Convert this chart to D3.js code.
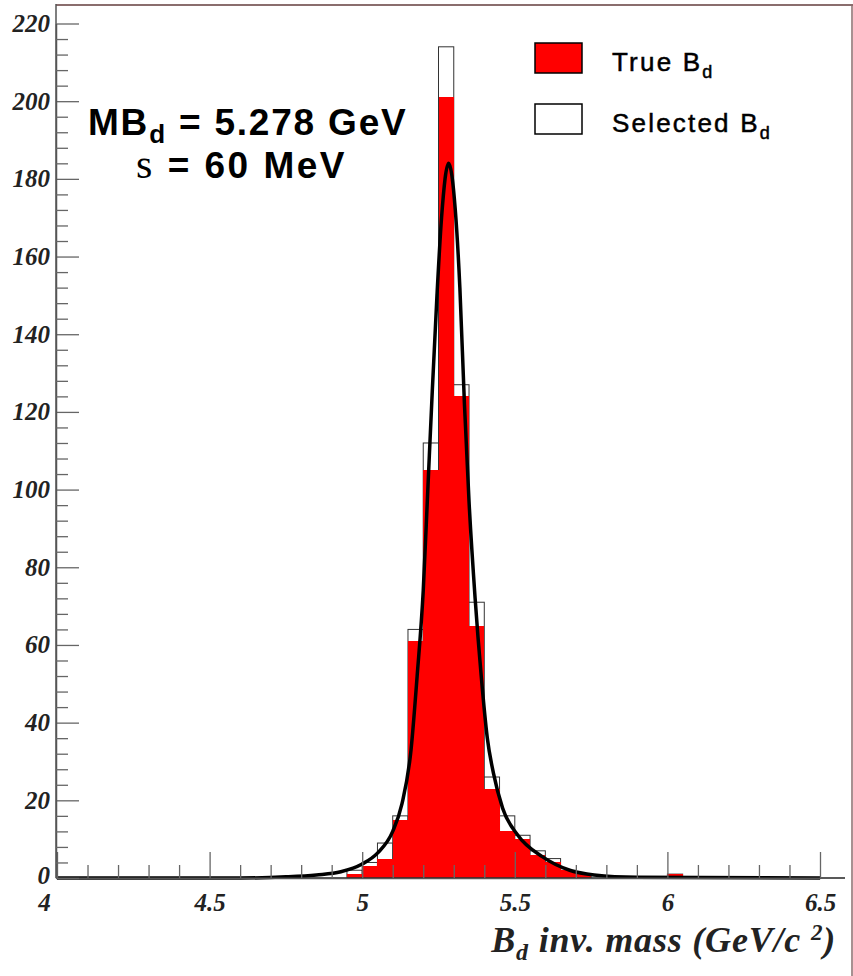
<!DOCTYPE html>
<html>
<head>
<meta charset="utf-8">
<script src="https://cdn.jsdelivr.net/npm/d3@7"></script>
<style>
  body { margin: 0; background: #fff; }
</style>
</head>
<body>
<div id="chart"></div>
<script>
// histogram bins (low edge, GeV), width 0.05 -- only non-empty bins listed
var binLow = [4.95, 5.00, 5.05, 5.10, 5.15, 5.20, 5.25, 5.30, 5.35, 5.40, 5.45, 5.50, 5.55, 5.60, 5.65, 5.70, 6.00];
var trueBd = [1, 3, 5, 15, 61, 105, 201, 124, 65, 23, 12, 10, 6, 4, 2, 1, 1];
var selectedBd = [2, 4, 9, 16, 64, 112, 214, 127, 71, 26, 16, 11, 7, 5, 2, 1, 1];
var binWidth = 0.05;

// fitted curve
var fitX = [4.0, 4.6, 4.75, 4.85, 4.93, 5.0, 5.05, 5.1, 5.13, 5.16, 5.18, 5.2, 5.215, 5.23, 5.245, 5.26, 5.283,
            5.305, 5.32, 5.335, 5.35, 5.37, 5.39, 5.41, 5.43, 5.46, 5.51, 5.59, 5.68, 5.76, 5.9, 6.5];
var fitY = [0, 0, 0.3, 0.8, 1.6, 3.6, 6.4, 12, 19, 33, 52, 74, 100, 126, 150, 170, 184,
            172, 152, 122, 97, 72, 52, 36, 27, 18, 11, 5.5, 2, 0.8, 0.2, 0];

// axis ticks
var xMajor = [4, 4.5, 5, 5.5, 6, 6.5];
var xMinor = [4.1, 4.2, 4.3, 4.4, 4.6, 4.7, 4.8, 4.9, 5.1, 5.2, 5.3, 5.4, 5.6, 5.7, 5.8, 5.9, 6.1, 6.2, 6.3, 6.4];
var yMajor = [0, 20, 40, 60, 80, 100, 120, 140, 160, 180, 200, 220];
var yMinor = d3.range(4, 221, 4).filter(d => d % 20 !== 0);

var svgWidth = 853;
var svgHeight = 976;

var svg = d3.select("#chart")
  .append("svg")
  .attr("width", svgWidth)
  .attr("height", svgHeight)
  .style("display", "block");

svg.append("rect").attr("width", svgWidth).attr("height", svgHeight).attr("fill", "#fff");

var x = d3.scaleLinear().domain([4, 6.5]).range([57, 820]);
var y = d3.scaleLinear().domain([0, 220]).range([878, 23.5]);

var bins = binLow.map((lo, i) => ({ lo: lo, hi: lo + binWidth, t: trueBd[i], s: selectedBd[i] }));

// selected histogram: white boxes with thin outline
svg.append("g").selectAll("rect")
  .data(bins)
  .join("rect")
  .attr("x", d => x(d.lo))
  .attr("width", d => x(d.hi) - x(d.lo))
  .attr("y", d => y(d.s))
  .attr("height", d => y(0) - y(d.s))
  .attr("fill", "#fff")
  .attr("stroke", "#333")
  .attr("stroke-width", 1);

// true histogram: red fill on top
svg.append("g").selectAll("rect")
  .data(bins)
  .join("rect")
  .attr("x", d => x(d.lo))
  .attr("width", d => x(d.hi) - x(d.lo))
  .attr("y", d => y(d.t))
  .attr("height", d => y(0) - y(d.t))
  .attr("fill", "#ff0000")
  .attr("shape-rendering", "crispEdges");

// fit curve
var fitLine = d3.line()
  .x((d, i) => x(fitX[i]))
  .y(d => y(d))
  .curve(d3.curveMonotoneX);

svg.append("path")
  .attr("d", fitLine(fitY))
  .attr("fill", "none")
  .attr("stroke", "#000")
  .attr("stroke-width", 3.5)
  .attr("stroke-linejoin", "round");

// frame top / right
svg.append("line").attr("x1", 56).attr("x2", 853).attr("y1", 5).attr("y2", 5)
  .attr("stroke", "#8a6d6d").attr("stroke-width", 2);
svg.append("line").attr("x1", 852).attr("x2", 852).attr("y1", 5).attr("y2", 976)
  .attr("stroke", "#8a6d6d").attr("stroke-width", 1.5);

// axes (ROOT style, ticks pointing inwards)
var labelFont = "'Liberation Serif', 'Times New Roman', serif";

var bottomAxis = d3.axisBottom(x).tickValues(xMajor).tickFormat(d3.format("")).tickSize(-26).tickSizeOuter(0).tickPadding(15);
var bottomMinor = d3.axisBottom(x).tickValues(xMinor).tickFormat("").tickSize(-13).tickSizeOuter(0);
var leftAxis = d3.axisLeft(y).tickValues(yMajor).tickFormat(d3.format("")).tickSize(-23).tickSizeOuter(0).tickPadding(6);
var leftMinor = d3.axisLeft(y).tickValues(yMinor).tickFormat("").tickSize(-12).tickSizeOuter(0);

var gx = svg.append("g").attr("transform", `translate(0, ${y(0)})`).call(bottomAxis);
svg.append("g").attr("transform", `translate(0, ${y(0)})`).call(bottomMinor);
var gy = svg.append("g").attr("transform", `translate(${x(4) - 1}, 0)`).call(leftAxis);
svg.append("g").attr("transform", `translate(${x(4) - 1}, 0)`).call(leftMinor);

svg.selectAll(".domain").attr("stroke", "#555").attr("stroke-width", 1.5);
svg.selectAll(".tick line").attr("stroke", "#666").attr("stroke-width", 1.3);

gx.select(".domain").attr("d", `M${x(4) - 1},0H845`).attr("stroke", "#222");
gx.selectAll("text")
  .attr("font-family", labelFont)
  .attr("font-size", 25)
  .attr("font-weight", "bold")
  .attr("font-style", "italic")
  .attr("fill", "#222");
gx.selectAll(".tick").filter(d => d === 4).select("text").attr("dx", -13);

gy.select(".domain").attr("d", `M0,${y(0)}V4`);
gy.selectAll("text")
  .attr("font-family", labelFont)
  .attr("font-size", 25)
  .attr("font-weight", "bold")
  .attr("font-style", "italic")
  .attr("fill", "#222");
gy.selectAll(".tick").filter(d => d === 0).select("text").attr("dy", "0.2em");

// x axis title
var xt = svg.append("text")
  .attr("x", 836).attr("y", 952)
  .attr("text-anchor", "end")
  .attr("font-family", labelFont)
  .attr("font-size", 36)
  .attr("letter-spacing", 0.8)
  .attr("font-weight", "bold")
  .attr("font-style", "italic")
  .attr("fill", "#222");
xt.append("tspan").text("B");
xt.append("tspan").attr("dy", 8).attr("font-size", 24).text("d");
xt.append("tspan").attr("dy", -8).text(" inv. mass (GeV/c ");
xt.append("tspan").attr("dy", -12).attr("font-size", 23).text("2");
xt.append("tspan").attr("dy", 12).text(")");

// annotation
var sansFont = "'Liberation Sans', Arial, sans-serif";
var t1 = svg.append("text")
  .attr("x", 88).attr("y", 135)
  .attr("font-family", sansFont)
  .attr("font-size", 37)
  .attr("letter-spacing", 1.8)
  .attr("font-weight", "bold")
  .attr("fill", "#000");
t1.append("tspan").text("MB");
t1.append("tspan").attr("dy", 8).attr("font-size", 26).text("d");
t1.append("tspan").attr("dy", -8).text(" = 5.278 GeV");

var t2 = svg.append("text")
  .attr("x", 136).attr("y", 178)
  .attr("font-family", sansFont)
  .attr("font-size", 37)
  .attr("letter-spacing", 2.5)
  .attr("font-weight", "bold")
  .attr("fill", "#000");
t2.append("tspan").attr("font-family", labelFont).attr("font-weight", "normal").attr("font-size", 42).text("s");
t2.append("tspan").text(" = 60 MeV");

// legend
var legendItems = [
  { label: "True B", fill: "#ff0000", yy: 43 },
  { label: "Selected B", fill: "#fff", yy: 104 }
];
var legend = svg.append("g");
legendItems.forEach(function(it) {
  legend.append("rect")
    .attr("x", 535).attr("y", it.yy)
    .attr("width", 47).attr("height", 30)
    .attr("fill", it.fill)
    .attr("stroke", "#000")
    .attr("stroke-width", 1.5);
  var lt = legend.append("text")
    .attr("x", 612).attr("y", it.yy + 28)
    .attr("font-family", sansFont)
    .attr("font-size", 26)
    .attr("letter-spacing", 2.2)
    .attr("stroke", "#000")
    .attr("stroke-width", 0.5)
    .attr("fill", "#000");
  lt.append("tspan").text(it.label);
  lt.append("tspan").attr("dy", 7).attr("font-size", 18).text("d");
});
</script>
</body>
</html>
